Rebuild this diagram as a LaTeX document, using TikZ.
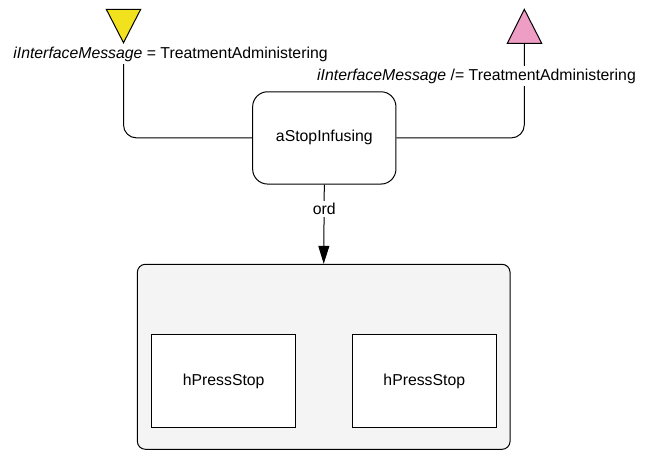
\documentclass[tikz,border=0pt]{standalone}
\usepackage{fontspec}
\setmainfont{Liberation Sans}
\usetikzlibrary{arrows.meta}
\definecolor{ytri}{HTML}{F2E21E}
\definecolor{ptri}{HTML}{EE9DC4}
\definecolor{grp}{HTML}{F4F4F4}
\begin{document}
\begin{tikzpicture}[x=1pt,y=-1pt,line width=1pt,
  every node/.style={font=\fontsize{15.8}{19}\selectfont},
  action/.style={draw,rounded corners=15pt,minimum width=143.3pt,minimum height=92.3pt,inner sep=0pt},
  group/.style={draw,fill=grp,rounded corners=8pt,minimum width=372.7pt,minimum height=185pt,inner sep=0pt},
  part/.style={draw,fill=white,minimum width=143.8pt,minimum height=93.4pt,inner sep=0pt},
  guard/.style={fill=white,inner sep=2.5pt},
  conn/.style={rounded corners=13pt}]
\useasboundingbox (0,0) rectangle (651,451);
% triangles
\coordinate (yl) at (106.3,9.3);
\coordinate (yr) at (140.7,9.3);
\coordinate (ytip) at (123.5,42.7);
\fill[ytri] (yl) -- (yr) -- (ytip) -- cycle;
\draw[line join=miter] (yl) -- (yr) -- (ytip) -- cycle;
\coordinate (pl) at (507.3,43.3);
\coordinate (pr) at (541.7,43.3);
\coordinate (ptop) at (524.3,9.3);
\coordinate (pbase) at (524.3,43.3);
\fill[ptri] (pl) -- (pr) -- (ptop) -- cycle;
\draw[line join=miter] (pl) -- (pr) -- (ptop) -- cycle;
% nodes
\node[action] (stop) at (324.3,137.9) {aStopInfusing};
\node[group] (grp) at (323.7,356.8) {};
\node[part] (h1) at (223.7,381) {hPressStop};
\node[part] (h2) at (424.3,381) {hPressStop};
% left connector
\node (lab1) at (170.5,54) {\textit{iInterfaceMessage} = TreatmentAdministering};
\coordinate (c1) at (123.5,64);
\draw[conn] (c1) |- (stop.west);
% right connector
\draw[conn] (stop.east) -| (pbase);
\node[guard] (lab2) at (476.5,76) {\textit{iInterfaceMessage} /= TreatmentAdministering};
% ord arrow
\draw[-{Triangle[length=18pt,width=11pt]}] (stop.south) -- (grp.north);
\node[guard] (ord) at (324.3,209) {ord};
\end{tikzpicture}
\end{document}
